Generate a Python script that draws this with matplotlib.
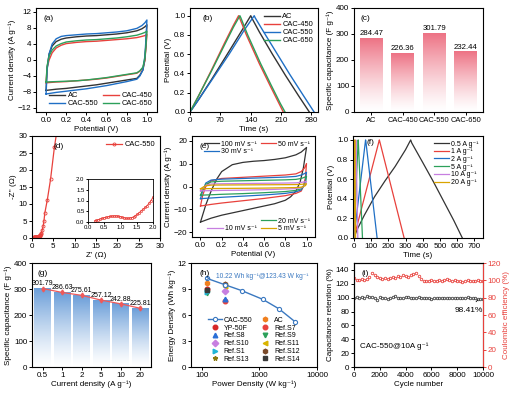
import numpy as np
import matplotlib
matplotlib.use('Agg')
import matplotlib.pyplot as plt
from matplotlib.colors import LinearSegmentedColormap

plt.rcParams['font.family'] = ['Liberation Sans', 'DejaVu Sans']
plt.rcParams['font.size'] = 5.8
plt.rcParams['axes.linewidth'] = 0.8
plt.rcParams['xtick.major.size'] = 2.2
plt.rcParams['ytick.major.size'] = 2.2
plt.rcParams['xtick.major.width'] = 0.7
plt.rcParams['ytick.major.width'] = 0.7
plt.rcParams['xtick.major.pad'] = 1.5
plt.rcParams['ytick.major.pad'] = 1.2
plt.rcParams['axes.labelpad'] = 1.2
plt.rcParams['legend.fontsize'] = 5.4

C_BLACK = '#333333'
C_RED = '#e8413c'
C_BLUE = '#1f6fc5'
C_GREEN = '#2ca05a'
C_PURPLE = '#c77fe0'
C_GOLD = '#d9a400'

# ---------------- data ----------------
# (a) CV of the four samples at same scan rate
cv_v_fwd = [0, 0.01, 0.03, 0.06, 0.1, 0.15, 0.2, 0.3, 0.4, 0.5, 0.6, 0.7, 0.8, 0.9, 0.95, 0.98, 1.0]
cv_v_bwd = [1.0, 0.99, 0.98, 0.96, 0.93, 0.9, 0.8, 0.7, 0.6, 0.5, 0.4, 0.3, 0.2, 0.1, 0.05, 0.0]
cv_names = ['AC', 'CAC-450', 'CAC-550', 'CAC-650']
cv_fwd = {
    'AC': [-7.6, -2.0, 1.5, 3.5, 4.6, 5.2, 5.5, 5.8, 6.0, 6.1, 6.3, 6.5, 6.8, 7.3, 7.8, 8.3, 8.8],
    'CAC-450': [-5.7, -2.0, 0.0, 1.8, 3.0, 3.7, 4.1, 4.4, 4.6, 4.7, 4.9, 5.1, 5.3, 5.6, 5.9, 6.1, 6.4],
    'CAC-550': [-8.5, -2.5, 1.5, 4.0, 5.3, 5.9, 6.1, 6.3, 6.5, 6.6, 6.8, 7.0, 7.3, 7.9, 8.6, 9.3, 10.0],
    'CAC-650': [-5.5, -1.5, 1.0, 2.5, 3.5, 4.1, 4.5, 4.8, 5.0, 5.1, 5.3, 5.5, 5.8, 6.2, 6.6, 6.9, 7.2],
}
cv_bwd = {
    'AC': [8.8, 4.0, 0.0, -2.5, -3.8, -4.6, -5.0, -5.4, -5.8, -6.2, -6.5, -6.8, -7.1, -7.3, -7.45, -7.6],
    'CAC-450': [6.4, 3.0, 0.0, -2.0, -2.8, -3.3, -3.7, -4.1, -4.5, -4.8, -5.0, -5.2, -5.4, -5.5, -5.6, -5.7],
    'CAC-550': [10.0, 5.0, 1.0, -2.5, -4.0, -4.8, -5.4, -5.9, -6.4, -6.8, -7.2, -7.5, -7.8, -8.1, -8.3, -8.5],
    'CAC-650': [7.2, 3.5, 0.5, -1.8, -2.7, -3.2, -3.6, -4.0, -4.4, -4.7, -5.0, -5.2, -5.3, -5.4, -5.45, -5.5],
}

# (b) GCD of the four samples
gcd_t = {
    'AC': [0, 20, 50, 90, 120, 140, 142, 160, 190, 220, 250, 275],
    'CAC-450': [0, 20, 50, 80, 100, 112, 114, 130, 160, 185, 205, 215],
    'CAC-550': [0, 20, 50, 90, 125, 148, 150, 170, 200, 230, 260, 286],
    'CAC-650': [0, 20, 50, 80, 100, 115, 117, 133, 163, 188, 208, 219],
}
gcd_v = {
    'AC': [0, 0.13, 0.34, 0.63, 0.85, 1.0, 0.98, 0.83, 0.6, 0.38, 0.17, 0.0],
    'CAC-450': [0, 0.17, 0.44, 0.72, 0.9, 1.0, 0.98, 0.8, 0.5, 0.27, 0.09, 0.0],
    'CAC-550': [0, 0.13, 0.33, 0.6, 0.85, 1.0, 0.98, 0.83, 0.61, 0.39, 0.18, 0.0],
    'CAC-650': [0, 0.17, 0.43, 0.7, 0.88, 1.0, 0.98, 0.8, 0.5, 0.27, 0.09, 0.0],
}

# (c) specific capacitance
cap_names = ['AC', 'CAC-450', 'CAC-550', 'CAC-650']
cap_vals = [284.47, 226.36, 301.79, 232.44]

# (d) Nyquist plot of CAC-550
eis_re_low = [0.2, 0.26, 0.32, 0.38, 0.44, 0.5, 0.56, 0.62, 0.68, 0.74, 0.8, 0.86, 0.92, 0.98, 1.04,
              1.1, 1.16, 1.22, 1.28, 1.34, 1.4, 1.46, 1.52, 1.58, 1.64, 1.7, 1.76, 1.82, 1.88, 1.94, 2.0]
eis_im_low = [0.05, 0.08, 0.11, 0.14, 0.17, 0.2, 0.22, 0.24, 0.26, 0.27, 0.28, 0.28, 0.27, 0.25, 0.23,
              0.2, 0.18, 0.17, 0.18, 0.2, 0.24, 0.3, 0.36, 0.44, 0.52, 0.6, 0.68, 0.76, 0.88, 1.0, 1.15]
eis_re_high = [2.2, 2.4, 2.6, 2.8, 3.0, 3.6, 4.35, 5.25, 5.9]
eis_im_high = [1.6, 2.4, 3.4, 5.0, 7.3, 11.3, 17.3, 26.7, 32.0]

# (e) CV of CAC-550 at different scan rates
rate_labels = ['100 mV s⁻¹', '50 mV s⁻¹', '30 mV s⁻¹', '20 mV s⁻¹', '10 mV s⁻¹', '5 mV s⁻¹']
rate_colors = [C_BLACK, C_RED, C_BLUE, C_GREEN, C_PURPLE, C_GOLD]
v100_fwd = [0, 0.05, 0.1, 0.15, 0.2, 0.3, 0.4, 0.5, 0.6, 0.7, 0.8, 0.9, 0.95, 1.0]
i100_fwd = [-15.5, -8, -2, 3, 6.5, 9.5, 10.5, 11, 11.3, 11.8, 12.5, 13.8, 15, 17]
v100_bwd = [1.0, 0.97, 0.94, 0.9, 0.85, 0.8, 0.7, 0.6, 0.5, 0.4, 0.3, 0.2, 0.1, 0.0]
i100_bwd = [17, 8, 2, -2, -4.5, -6, -7.5, -8.5, -9.5, -10.5, -11.5, -12.5, -13.8, -15.5]
vr_fwd = [0, 0.02, 0.05, 0.1, 0.2, 0.4, 0.6, 0.8, 0.9, 0.95, 0.98, 1.0]
vr_bwd = [1.0, 0.99, 0.97, 0.95, 0.9, 0.8, 0.6, 0.4, 0.2, 0.1, 0.0]
ir_fwd = [
    [-8.5, -4, 0, 2.5, 3.5, 4.0, 4.5, 5.0, 5.5, 6.5, 8, 10],
    [-5.3, -2, 1.5, 2.8, 3.2, 3.5, 3.8, 4.1, 4.4, 5.0, 5.6, 6.2],
    [-3.8, -1.5, 1.0, 2.0, 2.3, 2.5, 2.7, 2.9, 3.1, 3.5, 4.0, 4.5],
    [-1.9, -0.8, 0.5, 1.1, 1.2, 1.3, 1.4, 1.5, 1.6, 1.8, 2.0, 2.3],
    [-1.0, -0.4, 0.3, 0.6, 0.65, 0.7, 0.75, 0.8, 0.85, 0.95, 1.05, 1.2],
]
ir_bwd = [
    [10, 4, 0, -2, -3, -4, -5.2, -6.2, -7.2, -7.8, -8.5],
    [6.2, 2.5, 0, -1.5, -2.3, -3.0, -3.7, -4.2, -4.7, -5.0, -5.3],
    [4.5, 1.5, 0, -1.0, -1.7, -2.2, -2.7, -3.1, -3.4, -3.6, -3.8],
    [2.3, 0.8, 0, -0.6, -0.9, -1.1, -1.4, -1.6, -1.7, -1.8, -1.9],
    [1.2, 0.4, 0, -0.3, -0.45, -0.55, -0.7, -0.8, -0.85, -0.9, -1.0],
]

# (f) GCD of CAC-550 at different current densities
cd_labels = ['0.5 A g⁻¹', '1 A g⁻¹', '2 A g⁻¹', '5 A g⁻¹', '10 A g⁻¹', '20 A g⁻¹']
gcd2_t = [
    [0, 20, 60, 120, 180, 240, 300, 330, 336, 400, 460, 520, 580, 630],
    [0, 148, 151, 220, 292],
    [0, 68, 70, 135],
    [0, 25, 26, 50],
    [0, 11, 12, 23],
    [0, 5, 5.5, 10],
]
gcd2_v = [
    [0, 0.09, 0.23, 0.42, 0.58, 0.73, 0.9, 1.0, 0.97, 0.77, 0.58, 0.38, 0.18, 0.0],
    [0, 1.0, 0.98, 0.5, 0.0],
    [0, 1.0, 0.98, 0.0],
    [0, 1.0, 0.98, 0.0],
    [0, 1.0, 0.98, 0.0],
    [0, 1.0, 0.98, 0.0],
]

# (g) rate capability
rate_cd = ['0.5', '1', '2', '5', '10', '20']
rate_cap = [301.79, 286.63, 275.61, 257.12, 242.88, 225.81]

# (h) Ragone plot
rag_p = [123.43, 250, 500, 1150, 2200, 4200]
rag_e = [10.22, 9.5, 8.8, 7.8, 6.7, 5.2]
ref_names = ['AC', 'YP-50F', 'Ref.S7', 'Ref.S8', 'Ref.S9', 'Ref.S10', 'Ref.S11',
             'Ref.S1', 'Ref.S12', 'Ref.S13', 'Ref.S14']
ref_p = [125, 125, 250, 250, 125, 250, 250, 125, 250, 250, 125]
ref_e = [9.7, 9.0, 7.6, 7.9, 8.5, 8.8, 9.4, 8.6, 9.6, 9.5, 8.9]
ref_marker = ['h', 'o', 'o', '^', 'v', 'D', '<', '>', 'h', '*', 's']
ref_color = ['#f07f1e', '#d62728', '#e8413c', '#2a6fd6', '#2ca05a', '#c77fe0', '#d9b400',
             '#1fb5d6', '#7a4a2a', '#8a7a10', '#3a3a3a']

# (i) cycling stability
cycles = [0, 200, 400, 600, 800, 1000, 1200, 1400, 1600, 1800, 2000, 2200, 2400, 2600, 2800,
          3000, 3200, 3400, 3600, 3800, 4000, 4200, 4400, 4600, 4800, 5000, 5200, 5400, 5600,
          5800, 6000, 6200, 6400, 6600, 6800, 7000, 7200, 7400, 7600, 7800, 8000, 8200, 8400,
          8600, 8800, 9000, 9200, 9400, 9600, 9800, 10000]
retention = [100, 100.5, 99.5, 101, 100, 102, 101, 100.5, 99, 97, 101, 100, 99.5, 98.5, 100,
             101, 103, 100, 99.5, 100, 100.5, 101, 100, 100, 99.5, 101, 100, 100, 99.5,
             99, 98, 99, 99.5, 100, 99, 99.5, 100, 99.5, 100, 100, 99.5, 99, 99,
             100, 100.5, 99.5, 99, 99, 98.5, 98.7, 98.41]
coulombic = [103, 100, 100, 101, 100, 102, 104, 108, 106, 104, 103, 102, 103, 102, 103,
             104, 103, 105, 104, 106, 105, 104, 106, 107, 108, 105, 101, 99, 99,
             99, 100, 99, 99, 100, 99, 100, 101, 100, 99, 100, 99, 99, 98,
             99, 100, 99, 99, 99, 100, 99, 99]

# ---------------- figure ----------------
W, H = 511, 393
fig = plt.figure(figsize=(W / 100, H / 100), dpi=100)


def add_ax(xl, xr, yt, yb):
    return fig.add_axes([xl / W, 1 - yb / H, (xr - xl) / W, (yb - yt) / H])


def panel_label(ax, s, x=0.06, y=0.93):
    ax.text(x, y, s, transform=ax.transAxes, ha='left', va='top', fontsize=6)


def grad_bars(ax, xs, hs, width, top_rgb):
    cmap = LinearSegmentedColormap.from_list('g', [(1, 1, 1), top_rgb])
    grad = np.linspace(0, 1, 256).reshape(-1, 1) ** 1.3
    for x, h in zip(xs, hs):
        ax.imshow(grad, cmap=cmap, aspect='auto', origin='lower', vmin=0, vmax=1,
                  extent=[x - width / 2, x + width / 2, 0, h], zorder=1)


leg_kw = dict(frameon=False, handlelength=2.2, handletextpad=0.3, labelspacing=0.1,
              borderaxespad=0.25, columnspacing=0.6)

# (a)
ax = add_ax(36, 157, 8, 112)
cols = {'AC': C_BLACK, 'CAC-450': C_RED, 'CAC-550': C_BLUE, 'CAC-650': C_GREEN}
lines = {}
for n in cv_names:
    lines[n], = ax.plot(cv_v_fwd + cv_v_bwd, cv_fwd[n] + cv_bwd[n], color=cols[n], lw=1.0)
ax.set_xlim(-0.1, 1.1)
ax.set_ylim(-13, 13)
ax.set_xticks([0, 0.2, 0.4, 0.6, 0.8, 1.0])
ax.set_yticks([-12, -8, -4, 0, 4, 8, 12])
ax.set_xlabel('Potential (V)')
ax.set_ylabel('Current density (A g⁻¹)')
ax.legend([lines[n] for n in ['AC', 'CAC-550', 'CAC-450', 'CAC-650']],
          ['AC', 'CAC-550', 'CAC-450', 'CAC-650'], ncol=2, loc='lower right', **leg_kw)
panel_label(ax, '(a)')

# (b)
ax = add_ax(190, 318, 8, 112)
for n in cv_names:
    ax.plot(gcd_t[n], gcd_v[n], color=cols[n], lw=1.0, label=n)
ax.set_xlim(0, 295)
ax.set_ylim(0, 1.08)
ax.set_xticks([0, 70, 140, 210, 280])
ax.set_yticks([0, 0.2, 0.4, 0.6, 0.8, 1.0])
ax.set_xlabel('Time (s)')
ax.set_ylabel('Potential (V)')
ax.legend(loc='upper right', **leg_kw)
panel_label(ax, '(b)', x=0.1)

# (c)
ax = add_ax(354, 483, 8, 112)
xs = np.arange(len(cap_names))
grad_bars(ax, xs, cap_vals, 0.72, (0.93, 0.45, 0.52))
for x, v in zip(xs, cap_vals):
    ax.text(x, v + 4, f'{v:.2f}', ha='center', va='bottom', fontsize=5.6)
ax.set_xlim(-0.55, 3.55)
ax.set_ylim(0, 400)
ax.set_xticks(xs)
ax.set_xticklabels(cap_names, fontsize=5.4)
ax.set_yticks([0, 100, 200, 300, 400])
ax.set_ylabel('Specific capacitance (F g⁻¹)')
panel_label(ax, '(c)', x=0.05)

# (d)
ax = add_ax(32, 160, 136, 238)
ax.plot(eis_re_low + eis_re_high, eis_im_low + eis_im_high, color=C_RED, lw=0.9,
        marker='o', ms=2.2, mfc='none', mew=0.6, label='CAC-550')
ax.set_xlim(0, 30)
ax.set_ylim(0, 30)
ax.set_xticks([0, 5, 10, 15, 20, 25, 30])
ax.set_yticks([0, 5, 10, 15, 20, 25, 30])
ax.set_xlabel("Z' (Ω)")
ax.set_ylabel("-Z'' (Ω)")
ax.legend(loc='upper right', **leg_kw)
panel_label(ax, '(d)', x=0.17)
axin = add_ax(88, 153, 179, 222)
axin.plot(eis_re_low, eis_im_low, color=C_RED, lw=0.7, marker='o', ms=1.6, mfc='none', mew=0.5)
axin.set_xlim(0, 2.0)
axin.set_ylim(0, 2.0)
axin.set_xticks([0, 0.5, 1.0, 1.5, 2.0])
axin.set_yticks([0, 0.5, 1.0, 1.5, 2.0])
axin.tick_params(labelsize=4.3, length=1.5, pad=1)
for s in axin.spines.values():
    s.set_linewidth(0.6)

# (e)
ax = add_ax(192, 315, 136, 237)
h_e = []
l0, = ax.plot(v100_fwd + v100_bwd, i100_fwd + i100_bwd, color=rate_colors[0], lw=0.9)
h_e.append(l0)
for k in range(5):
    l, = ax.plot(vr_fwd + vr_bwd, ir_fwd[k] + ir_bwd[k], color=rate_colors[k + 1], lw=0.9)
    h_e.append(l)
ax.set_xlim(-0.08, 1.08)
ax.set_ylim(-22, 22)
ax.set_xticks([0, 0.2, 0.4, 0.6, 0.8, 1.0])
ax.set_yticks([-20, -10, 0, 10, 20])
ax.set_xlabel('Potential (V)')
ax.set_ylabel('Current density (A g⁻¹)')
leg1 = ax.legend([h_e[0], h_e[2], h_e[1]], [rate_labels[0], rate_labels[2], rate_labels[1]],
                 ncol=2, loc='upper right', fontsize=5.0, **leg_kw)
ax.add_artist(leg1)
blank, = ax.plot([], [], color='none')
ax.legend([blank, h_e[4], h_e[3], h_e[5]], ['', rate_labels[4], rate_labels[3], rate_labels[5]],
          ncol=2, loc='lower right', fontsize=5.0, **leg_kw)
panel_label(ax, '(e)', x=0.06)

# (f)
ax = add_ax(353, 483, 136, 238)
for k in range(6):
    ax.plot(gcd2_t[k], gcd2_v[k], color=rate_colors[k], lw=0.9, label=cd_labels[k])
ax.set_xlim(-5, 750)
ax.set_ylim(0, 1.04)
ax.set_xticks([0, 100, 200, 300, 400, 500, 600, 700])
ax.set_yticks([0, 0.2, 0.4, 0.6, 0.8, 1.0])
ax.set_xlabel('Time (s)')
ax.set_ylabel('Potential (V)')
ax.legend(loc='upper right', fontsize=5.0, **leg_kw)
panel_label(ax, '(f)', x=0.1, y=0.97)

# (g)
ax = add_ax(32, 151, 263, 367)
xs = np.arange(len(rate_cd))
grad_bars(ax, xs, rate_cap, 0.86, (0.42, 0.62, 0.85))
ax.plot(xs, rate_cap, color='#ee5a5a', lw=0.9, marker='d', ms=2.5, zorder=3)
for x, v in zip(xs, rate_cap):
    ax.text(x, v + 5, f'{v:.2f}', ha='center', va='bottom', fontsize=5.0)
ax.set_xlim(-0.55, 5.55)
ax.set_ylim(0, 400)
ax.set_xticks(xs)
ax.set_xticklabels(rate_cd)
ax.set_yticks([0, 100, 200, 300, 400])
ax.set_xlabel('Current density (A g⁻¹)')
ax.set_ylabel('Specific capacitance (F g⁻¹)')
panel_label(ax, '(g)', x=0.05)

# (h)
ax = add_ax(191, 317, 263, 367)
hh = []
l, = ax.plot(rag_p, rag_e, color='#3a78c0', lw=1.0, marker='o', ms=3, mfc='white', mew=0.8,
             label='CAC-550', zorder=3)
hh.append(l)
for n, p, e, m, c in zip(ref_names, ref_p, ref_e, ref_marker, ref_color):
    l, = ax.plot([p], [e], linestyle='none', marker=m, ms=3.3, color=c, label=n)
    hh.append(l)
ax.set_xscale('log')
ax.set_xlim(65, 10000)
ax.set_ylim(0, 12)
ax.set_yticks([0, 3, 6, 9, 12])
ax.set_xticks([100, 1000, 10000])
ax.set_xticklabels(['100', '1000', '10000'])
ax.minorticks_off()
ax.set_xlabel('Power Density (W kg⁻¹)')
ax.set_ylabel('Energy Density (Wh kg⁻¹)')
ax.annotate('10.22 Wh kg⁻¹@123.43 W kg⁻¹', xy=(rag_p[0], rag_e[0]), xytext=(175, 10.4),
            color='#3a78c0', fontsize=4.8, va='center',
            arrowprops=dict(arrowstyle='<-', color='#3a78c0', lw=0.7))
order = [0, 2, 4, 6, 8, 10, 1, 3, 5, 7, 9, 11]
ax.legend([hh[i] for i in order], [hh[i].get_label() for i in order], ncol=2,
          loc='lower left', bbox_to_anchor=(0.1, 0.0), frameon=False, handlelength=2.0,
          handletextpad=0.3, columnspacing=0.8, labelspacing=0.12, borderaxespad=0.2,
          fontsize=5.0)
panel_label(ax, '(h)', x=0.07)

# (i)
ax = add_ax(354, 483, 263, 367)
ax.plot(cycles, retention, linestyle='none', marker='o', ms=1.8, mfc='none', mew=0.6,
        color='#444444')
ax.set_xlim(0, 10000)
ax.set_ylim(0, 150)
ax.set_yticks([0, 20, 40, 60, 80, 100, 120, 140])
ax.set_xticks([0, 2000, 4000, 6000, 8000, 10000])
ax.set_xlabel('Cycle number')
ax.set_ylabel('Capacitance retention (%)')
ax.annotate('98.41%', xy=(9600, 97), xytext=(8900, 82), ha='center', va='center', fontsize=6,
            arrowprops=dict(arrowstyle='-', color='black', lw=0.6))
ax.text(500, 30, 'CAC-550@10A g⁻¹', ha='left', va='center', fontsize=5.8)
panel_label(ax, '(i)', x=0.06)
ax2 = ax.twinx()
ax2.plot(cycles, coulombic, linestyle='none', marker='o', ms=1.8, mfc='none', mew=0.6,
         color=C_RED)
ax2.set_ylim(0, 120)
ax2.set_yticks([0, 20, 40, 60, 80, 100, 120])
ax2.set_ylabel('Coulombic efficiency (%)', color=C_RED)
ax2.tick_params(axis='y', colors=C_RED)
ax2.spines['right'].set_color(C_RED)

fig.savefig('out.png', dpi=100)
